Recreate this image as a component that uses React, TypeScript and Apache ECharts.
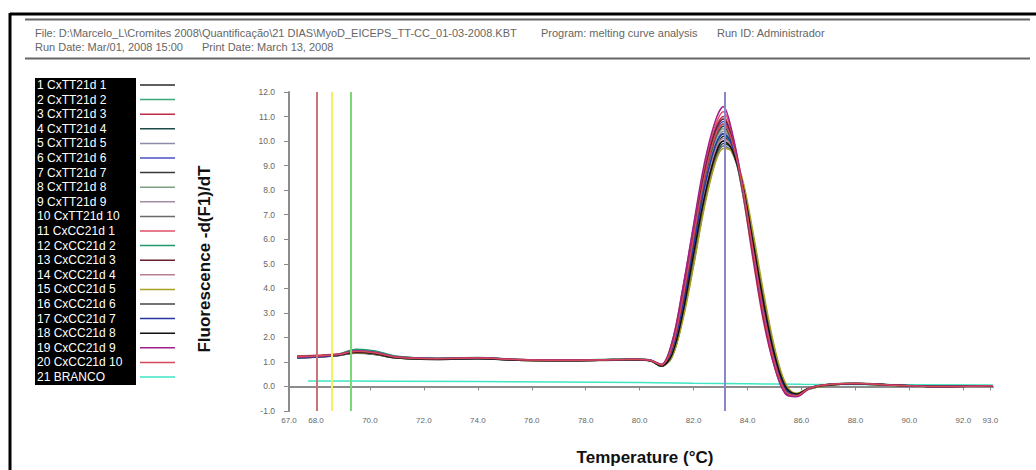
import React, { useEffect, useRef } from "react";
import * as echarts from "echarts";

// Temperature grid (°C) shared by the 20 melting curves
const T = [67.3, 68.0, 68.8, 69.5, 70.2, 71.0, 72.5, 74.0, 75.5, 77.0, 78.5, 79.8, 80.4, 80.8, 81.2, 81.6, 82.0, 82.4, 82.8, 83.1, 83.4, 83.8, 84.2, 84.6, 85.0, 85.4, 85.8, 86.3, 87.0, 88.0, 89.5, 91.0, 93.1];

const S1 = [1.20,1.24,1.30,1.40,1.33,1.17,1.10,1.14,1.07,1.05,1.07,1.09,1.05,0.82,1.3,3.0,5.3,7.7,9.5,10.2,9.8,8.3,5.9,3.4,1.3,0.0,-0.32,-0.08,0.06,0.10,0.05,0.0,0.02];
const S2 = [1.16,1.20,1.27,1.48,1.40,1.20,1.13,1.16,1.09,1.08,1.09,1.11,1.07,0.88,1.6,3.5,6.0,8.4,10.0,10.6,10.0,8.0,5.4,2.9,1.0,-0.2,-0.38,-0.06,0.09,0.13,0.06,0.01,0.03];
const S3 = [1.22,1.25,1.30,1.38,1.32,1.18,1.12,1.16,1.09,1.06,1.08,1.10,1.06,0.90,1.8,4.0,6.5,8.9,10.5,11.0,10.2,8.0,5.2,2.6,0.8,-0.28,-0.40,-0.08,0.07,0.12,0.05,0.0,0.02];
const S4 = [1.19,1.21,1.26,1.36,1.30,1.16,1.11,1.13,1.08,1.06,1.07,1.09,1.07,0.84,1.2,2.8,5.0,7.4,9.2,9.9,9.7,8.4,6.1,3.6,1.5,0.1,-0.30,-0.10,0.05,0.10,0.04,0.0,0.02];
const S5 = [1.17,1.22,1.29,1.44,1.36,1.19,1.13,1.15,1.08,1.07,1.08,1.10,1.06,0.86,1.5,3.3,5.7,8.1,9.8,10.4,9.9,8.2,5.7,3.2,1.2,-0.1,-0.34,-0.05,0.08,0.12,0.05,0.0,0.03];
const S6 = [1.21,1.23,1.28,1.40,1.35,1.20,1.14,1.17,1.10,1.08,1.09,1.11,1.08,0.87,1.7,3.7,6.2,8.6,10.3,10.8,10.1,8.1,5.5,3.0,1.0,-0.2,-0.36,-0.07,0.07,0.11,0.05,0.01,0.02];
const S7 = [1.18,1.20,1.25,1.37,1.31,1.17,1.12,1.14,1.07,1.06,1.07,1.09,1.05,0.83,1.4,3.1,5.5,7.8,9.5,10.0,9.7,8.2,5.8,3.3,1.3,0.0,-0.30,-0.06,0.07,0.11,0.05,0.0,0.03];
const S8 = [1.23,1.26,1.32,1.50,1.42,1.22,1.14,1.17,1.10,1.08,1.09,1.10,1.07,0.89,1.6,3.4,5.9,8.3,10.0,10.5,9.9,8.1,5.6,3.1,1.1,-0.15,-0.35,-0.05,0.08,0.13,0.06,0.01,0.03];
const S9 = [1.15,1.19,1.26,1.41,1.35,1.18,1.11,1.14,1.08,1.06,1.07,1.09,1.05,0.85,1.6,3.6,6.1,8.5,10.2,10.7,10.0,8.0,5.4,2.9,1.0,-0.22,-0.37,-0.06,0.08,0.12,0.05,0.0,0.02];
const S10 = [1.20,1.22,1.27,1.35,1.30,1.16,1.10,1.13,1.07,1.05,1.06,1.08,1.04,0.82,1.3,2.9,5.2,7.5,9.2,9.8,9.6,8.3,6.0,3.5,1.4,0.05,-0.30,-0.08,0.06,0.10,0.04,0.0,0.02];
const S11 = [1.24,1.27,1.32,1.45,1.38,1.21,1.14,1.17,1.10,1.07,1.09,1.11,1.07,0.88,1.7,3.8,6.4,8.9,10.6,11.2,10.4,8.3,5.5,2.9,0.9,-0.25,-0.40,-0.07,0.08,0.12,0.05,0.0,0.03];
const S12 = [1.17,1.21,1.30,1.52,1.45,1.23,1.15,1.18,1.10,1.08,1.10,1.12,1.08,0.87,1.5,3.3,5.7,8.0,9.7,10.3,9.8,8.2,5.8,3.3,1.2,-0.05,-0.33,-0.05,0.08,0.12,0.06,0.01,0.03];
const S13 = [1.19,1.22,1.27,1.39,1.33,1.18,1.12,1.15,1.08,1.06,1.08,1.10,1.06,0.86,1.7,3.7,6.2,8.7,10.4,10.9,10.2,8.1,5.4,2.8,0.9,-0.25,-0.38,-0.07,0.07,0.11,0.05,0.0,0.02];
const S14 = [1.21,1.24,1.29,1.43,1.36,1.19,1.12,1.15,1.08,1.07,1.08,1.10,1.06,0.84,1.4,3.2,5.5,7.9,9.6,10.1,9.8,8.3,5.9,3.4,1.3,0.0,-0.32,-0.06,0.07,0.11,0.05,0.0,0.03];
const S15 = [1.18,1.21,1.26,1.38,1.32,1.17,1.11,1.14,1.07,1.06,1.07,1.09,1.05,0.83,1.2,2.7,4.9,7.3,9.1,9.7,9.6,8.5,6.3,3.8,1.6,0.15,-0.28,-0.10,0.05,0.10,0.04,0.0,0.02];
const S16 = [1.20,1.23,1.28,1.41,1.34,1.18,1.12,1.15,1.08,1.07,1.08,1.10,1.06,0.86,1.6,3.5,6.0,8.4,10.1,10.6,10.0,8.1,5.5,3.0,1.0,-0.18,-0.36,-0.06,0.08,0.12,0.05,0.0,0.03];
const S17 = [1.16,1.20,1.26,1.40,1.34,1.18,1.12,1.14,1.08,1.06,1.07,1.09,1.05,0.85,1.5,3.3,5.7,8.1,9.8,10.3,9.9,8.2,5.7,3.2,1.2,-0.08,-0.34,-0.06,0.07,0.11,0.05,0.0,0.02];
const S18 = [1.22,1.24,1.29,1.39,1.33,1.17,1.11,1.14,1.07,1.06,1.07,1.09,1.05,0.83,1.3,3.0,5.4,7.7,9.4,10.0,9.7,8.3,5.9,3.4,1.3,0.0,-0.31,-0.07,0.06,0.11,0.05,0.0,0.03];
const S19 = [1.19,1.23,1.30,1.46,1.39,1.21,1.14,1.17,1.10,1.08,1.09,1.11,1.07,0.89,1.8,4.0,6.6,9.1,10.8,11.4,10.5,8.3,5.4,2.8,0.8,-0.3,-0.42,-0.08,0.08,0.12,0.05,0.0,0.03];
const S20 = [1.21,1.24,1.30,1.42,1.36,1.19,1.13,1.16,1.09,1.07,1.08,1.10,1.06,0.87,1.6,3.6,6.1,8.5,10.2,10.7,10.1,8.2,5.6,3.0,1.0,-0.2,-0.37,-0.06,0.08,0.12,0.05,0.0,0.03];

// Blank sample (BRANCO)
const T_BLANK = [67.7, 69.0, 71.0, 74.0, 77.0, 80.0, 82.0, 84.0, 85.0, 86.0, 88.0, 90.0, 93.1];
const V_BLANK = [0.22, 0.22, 0.21, 0.20, 0.18, 0.16, 0.13, 0.11, 0.10, 0.09, 0.08, 0.07, 0.06];

const CURVES = [S1, S2, S3, S4, S5, S6, S7, S8, S9, S10, S11, S12, S13, S14, S15, S16, S17, S18, S19, S20];

const NAMES = [
  "1 CxTT21d 1", "2 CxTT21d 2", "3 CxTT21d 3", "4 CxTT21d 4", "5 CxTT21d 5",
  "6 CxTT21d 6", "7 CxTT21d 7", "8 CxTT21d 8", "9 CxTT21d 9", "10 CxTT21d 10",
  "11 CxCC21d 1", "12 CxCC21d 2", "13 CxCC21d 3", "14 CxCC21d 4", "15 CxCC21d 5",
  "16 CxCC21d 6", "17 CxCC21d 7", "18 CxCC21d 8", "19 CxCC21d 9", "20 CxCC21d 10",
  "21 BRANCO",
];

const COLORS = [
  "#2a2a2a", "#3aa878", "#c02a48", "#1c4a48", "#8c8ca8",
  "#4a50c0", "#383838", "#7fa080", "#a58ca5", "#6a6a6a",
  "#e0506a", "#1f9a6a", "#6a1f30", "#b88090", "#a8a020",
  "#454545", "#2535a8", "#101010", "#a0208a", "#d84858",
  "#3ee6c4",
];

const X_TICKS = [67, 68, 70, 72, 74, 76, 78, 80, 82, 84, 86, 88, 90, 92, 93];

// Reference vertical cursor lines (°C)
const MARK_X = [68.03, 68.6, 69.3, 83.15];
const MARK_COLORS = ["#c87474", "#f4f060", "#7ad87a", "#8a88c4"];

const HEADER_1A = "File: D:\\Marcelo_L\\Cromites 2008\\Quantificação\\21 DIAS\\MyoD_EICEPS_TT-CC_01-03-2008.KBT";
const HEADER_1B = "Program: melting curve analysis";
const HEADER_1C = "Run ID: Administrador";
const HEADER_2A = "Run Date: Mar/01, 2008 15:00";
const HEADER_2B = "Print Date: March 13, 2008";

export default function App() {
  const ref = useRef<HTMLDivElement>(null);

  useEffect(() => {
    if (!ref.current) return;
    const chart = echarts.init(ref.current, undefined, { renderer: "svg" });
    const font = "'Liberation Sans', Arial, sans-serif";

    const series: any[] = CURVES.map((vals, i) => ({
      type: "line",
      name: NAMES[i],
      data: T.map((t, j) => [t, vals[j]]),
      smooth: 0.35,
      symbol: "none",
      lineStyle: { width: 1.5, color: COLORS[i] },
      z: 3,
    }));
    series.push({
      type: "line",
      name: NAMES[20],
      data: T_BLANK.map((t, j) => [t, V_BLANK[j]]),
      symbol: "none",
      lineStyle: { width: 1.5, color: COLORS[20] },
      z: 2,
      markLine: {
        silent: true,
        symbol: ["none", "none"],
        label: { show: false },
        data: MARK_X.map((x, i) => ({
          xAxis: x,
          lineStyle: { color: MARK_COLORS[i], width: 2, type: "solid", opacity: 1 },
        })),
      },
    });

    const graphic: any[] = [];
    // frame
    graphic.push({ type: "line", shape: { x1: 10, y1: 14, x2: 1036, y2: 14 }, style: { stroke: "#000", lineWidth: 3 } });
    graphic.push({ type: "line", shape: { x1: 10, y1: 13, x2: 10, y2: 470 }, style: { stroke: "#000", lineWidth: 3 } });
    graphic.push({ type: "line", shape: { x1: 25, y1: 19.5, x2: 1030, y2: 19.5 }, style: { stroke: "#666", lineWidth: 2 } });
    graphic.push({ type: "line", shape: { x1: 25, y1: 58.5, x2: 1030, y2: 58.5 }, style: { stroke: "#666", lineWidth: 2 } });
    const hdr = (text: string, x: number, y: number) => ({
      type: "text",
      x,
      y,
      style: { text, fill: "#666", font: `11px ${font}`, verticalAlign: "middle" },
    });
    graphic.push(hdr(HEADER_1A, 35, 33));
    graphic.push(hdr(HEADER_1B, 541, 33));
    graphic.push(hdr(HEADER_1C, 717, 33));
    graphic.push(hdr(HEADER_2A, 35, 47));
    graphic.push(hdr(HEADER_2B, 202, 47));

    // legend box
    graphic.push({ type: "rect", shape: { x: 35, y: 78, width: 101, height: 307 }, style: { fill: "#000" } });
    NAMES.forEach((n, i) => {
      const y = 85 + i * 14.6;
      graphic.push({
        type: "text",
        x: 37,
        y,
        style: { text: n, fill: "#fff", font: `12px ${font}`, verticalAlign: "middle" },
      });
      graphic.push({
        type: "line",
        shape: { x1: 140, y1: y, x2: 175, y2: y },
        style: { stroke: COLORS[i], lineWidth: 1.5 },
      });
    });

    // axis titles
    graphic.push({
      type: "text",
      x: 204,
      y: 259,
      rotation: Math.PI / 2,
      style: {
        text: "Fluorescence -d(F1)/dT",
        fill: "#111",
        font: `bold 17px ${font}`,
        align: "center",
        verticalAlign: "middle",
      },
    });
    graphic.push({
      type: "text",
      x: 645,
      y: 457,
      style: {
        text: "Temperature (\u00B0C)",
        fill: "#111",
        font: `bold 17px ${font}`,
        align: "center",
        verticalAlign: "middle",
      },
    });

    chart.setOption({
      animation: false,
      backgroundColor: "#fff",
      grid: { left: 289, right: 43, top: 92, bottom: 59 },
      xAxis: {
        type: "value",
        min: 67,
        max: 93.1,
        axisLine: { lineStyle: { color: "#8c8c8c", width: 2 } },
        axisTick: { show: true, length: 4, customValues: X_TICKS, lineStyle: { color: "#888" } },
        axisLabel: {
          customValues: X_TICKS,
          formatter: (v: number) => v.toFixed(1),
          fontSize: 8,
          color: "#666",
          margin: 5,
          fontFamily: font,
        },
        splitLine: { show: false },
      },
      yAxis: {
        type: "value",
        min: -1,
        max: 12,
        interval: 1,
        axisLine: { show: true, lineStyle: { color: "#8c8c8c", width: 2 } },
        axisTick: { show: true, length: 5, lineStyle: { color: "#888" } },
        axisLabel: {
          formatter: (v: number) => v.toFixed(1),
          fontSize: 8.5,
          color: "#666",
          margin: 14,
          fontFamily: font,
        },
        splitLine: { show: false },
      },
      series,
      graphic,
    });

    return () => chart.dispose();
  }, []);

  return <div ref={ref} style={{ width: 1036, height: 470, position: "absolute", left: 0, top: 0 }} />;
}
